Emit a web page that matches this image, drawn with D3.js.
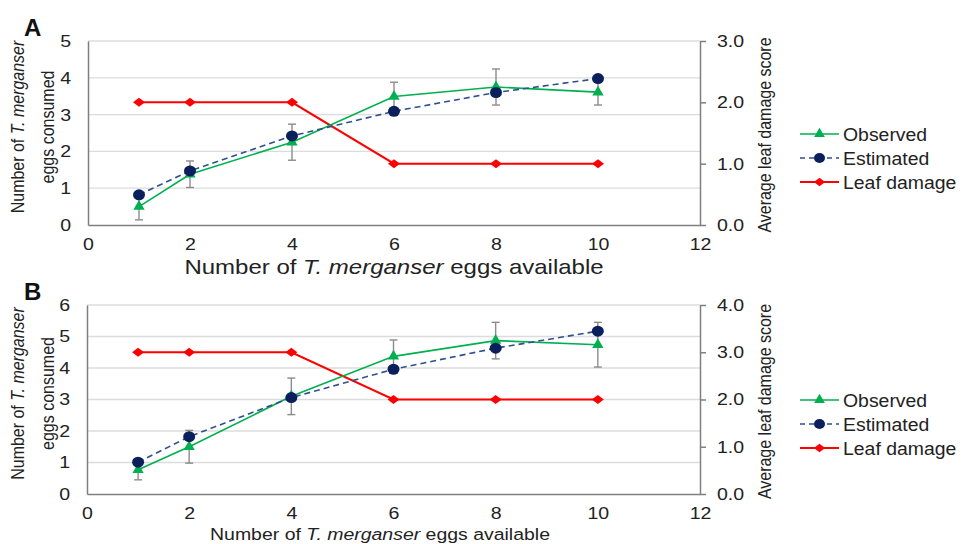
<!DOCTYPE html>
<html>
<head>
<meta charset="utf-8">
<script src="https://cdn.jsdelivr.net/npm/d3@7"></script>
<style>
  body { margin: 0; background: #fff; }
  svg { font-family: "Liberation Sans", Arial, sans-serif; }
</style>
</head>
<body>
<script>
const W = 964, H = 544

// values
const eggsAvailable = [1, 2, 4, 6, 8, 10]
const xTicks = [0, 2, 4, 6, 8, 10, 12]
const seriesNames = ['Observed', 'Estimated', 'Leaf damage']

const observedA = [0.50, 1.38, 2.25, 3.49, 3.75, 3.61]
const observedErrA = [0.36, 0.36, 0.49, 0.39, 0.49, 0.35]
const estimatedA = [0.82, 1.47, 2.42, 3.09, 3.60, 3.98]
const leafDamageA = [2, 2, 2, 1, 1, 1]

const observedB = [0.77, 1.50, 3.10, 4.37, 4.87, 4.74]
const observedErrB = [0.32, 0.52, 0.58, 0.52, 0.58, 0.71]
const estimatedB = [1.01, 1.82, 3.06, 3.96, 4.63, 5.17]
const leafDamageB = [3, 3, 3, 2, 2, 2]

const green = '#00b050', navy = '#0b1f5c', dash = '#2f4f8f', red = '#ff0000'
const axisGray = '#7f7f7f', gridGray = '#dcdcdc', errGray = '#8c8c8c'

// the figure's lettering is a bit wide, stretch it sideways
function wide(sel, sx) {
  sel.each(function () {
    const t = d3.select(this)
    const x0 = +t.attr('x') || 0
    t.attr('x', 0).attr('transform', `translate(${x0},0) scale(${sx},1)`)
  })
}

// diamond wider than tall, like the Excel marker
const flatDiamond = {
  draw(ctx, size) {
    const w = Math.sqrt(size) * 0.75, h = w * 0.75
    ctx.moveTo(0, -h); ctx.lineTo(w, 0); ctx.lineTo(0, h); ctx.lineTo(-w, 0); ctx.closePath()
  }
}

const svg = d3.select('body').append('svg').attr('width', W).attr('height', H)

function panel(cfg) {
  const g = svg.append('g')
  const x = d3.scaleLinear().domain([0, 12]).range([cfg.left, cfg.right])
  const y = d3.scaleLinear().domain([0, cfg.yMax]).range([cfg.bottom, cfg.top])
  const y2 = d3.scaleLinear().domain([0, cfg.y2Max]).range([cfg.bottom, cfg.top])

  // gridlines
  g.append('g').selectAll('line').data(d3.range(1, cfg.yMax + 1)).enter().append('line')
    .attr('x1', cfg.left).attr('x2', cfg.right)
    .attr('y1', d => y(d)).attr('y2', d => y(d))
    .attr('stroke', gridGray).attr('stroke-width', 1.3)

  // left axis (no ticks)
  const left = g.append('g').attr('transform', `translate(${cfg.left},0)`)
    .call(d3.axisLeft(y).ticks(cfg.yMax).tickSize(0).tickPadding(17))
  left.select('.domain').attr('stroke', axisGray).attr('stroke-width', 1.5)
  left.selectAll('text').attr('font-size', 17).attr('fill', '#222').style('font-family', 'inherit')
  wide(left.selectAll('text'), 1.15)

  // bottom axis
  const bottom = g.append('g').attr('transform', `translate(0,${cfg.bottom})`)
    .call(d3.axisBottom(x).tickValues(xTicks).tickSize(0).tickPadding(13))
  bottom.select('.domain').attr('stroke', axisGray).attr('stroke-width', 1.5)
  bottom.selectAll('text').attr('font-size', 17).attr('fill', '#222').style('font-family', 'inherit')
  wide(bottom.selectAll('text'), 1.15)

  // right axis
  const right = g.append('g').attr('transform', `translate(${cfg.right},0)`)
    .call(d3.axisRight(y2).ticks(cfg.y2Max).tickFormat(d3.format('.1f')).tickSize(6).tickSizeOuter(0).tickPadding(11))
  right.selectAll('.domain, line').attr('stroke', axisGray).attr('stroke-width', 1.5)
  right.selectAll('text').attr('font-size', 17).attr('fill', '#222').style('font-family', 'inherit')
  wide(right.selectAll('text'), 1.15)

  const obs = eggsAvailable.map((e, i) => ({ x: e, y: cfg.observed[i], err: cfg.err[i] }))
  const est = eggsAvailable.map((e, i) => ({ x: e, y: cfg.estimated[i] }))
  const leaf = eggsAvailable.map((e, i) => ({ x: e, y: cfg.leaf[i] }))

  // leaf damage line
  g.append('path').datum(leaf)
    .attr('d', d3.line().x(d => x(d.x)).y(d => y2(d.y)))
    .attr('fill', 'none').attr('stroke', red).attr('stroke-width', 2)
  g.append('g').selectAll('path').data(leaf).enter().append('path')
    .attr('d', d3.symbol(flatDiamond, 64))
    .attr('transform', d => `translate(${x(d.x)},${y2(d.y)})`)
    .attr('fill', red)

  // error bars on observed
  const eb = g.append('g').attr('stroke', errGray).attr('stroke-width', 1.4)
  eb.selectAll('line.v').data(obs).enter().append('line')
    .attr('x1', d => x(d.x)).attr('x2', d => x(d.x))
    .attr('y1', d => y(d.y - d.err)).attr('y2', d => y(d.y + d.err))
  eb.selectAll('line.t').data(obs).enter().append('line')
    .attr('x1', d => x(d.x) - 4).attr('x2', d => x(d.x) + 4)
    .attr('y1', d => y(d.y + d.err)).attr('y2', d => y(d.y + d.err))
  eb.selectAll('line.b').data(obs).enter().append('line')
    .attr('x1', d => x(d.x) - 4).attr('x2', d => x(d.x) + 4)
    .attr('y1', d => y(d.y - d.err)).attr('y2', d => y(d.y - d.err))

  // observed
  g.append('path').datum(obs)
    .attr('d', d3.line().x(d => x(d.x)).y(d => y(d.y)))
    .attr('fill', 'none').attr('stroke', green).attr('stroke-width', 1.6)
  g.append('g').selectAll('path').data(obs).enter().append('path')
    .attr('d', d3.symbol(d3.symbolTriangle, 55))
    .attr('transform', d => `translate(${x(d.x)},${y(d.y)})`)
    .attr('fill', green)

  // estimated
  g.append('path').datum(est)
    .attr('d', d3.line().x(d => x(d.x)).y(d => y(d.y)))
    .attr('fill', 'none').attr('stroke', dash).attr('stroke-width', 1.6).attr('stroke-dasharray', '6,4')
  g.append('g').selectAll('ellipse').data(est).enter().append('ellipse')
    .attr('cx', d => x(d.x)).attr('cy', d => y(d.y)).attr('rx', 6).attr('ry', 5.5)
    .attr('fill', navy)

  // panel letter
  g.append('text').attr('x', 24).attr('y', cfg.top - 5).text(cfg.letter)
    .attr('font-size', 24).attr('font-weight', 'bold').attr('fill', '#111')

  // x title
  const xt = g.append('text').attr('x', cfg.xTitleX).attr('y', cfg.bottom + cfg.xTitleDy)
    .attr('text-anchor', 'middle').attr('font-size', cfg.xTitleSize).attr('fill', '#222')
  xt.append('tspan').text('Number of ')
  xt.append('tspan').attr('font-style', 'italic').text('T. merganser')
  xt.append('tspan').text(' eggs available')
  wide(xt, cfg.xTitleStretch)

  // left y title
  const cy = (cfg.top + cfg.bottom) / 2 - 6
  const yt = g.append('text').attr('transform', `translate(24,${cy}) scale(1.1,1) rotate(-90)`)
    .attr('text-anchor', 'middle').attr('font-size', 16).attr('fill', '#222')
  const l1 = yt.append('tspan').attr('x', 0).attr('dy', 0)
  l1.append('tspan').text('Number of ')
  l1.append('tspan').attr('font-style', 'italic').text('T. merganser')
  yt.append('tspan').attr('x', 0).attr('dy', 27).text('eggs consumed')

  // right y title
  g.append('text').attr('transform', `translate(771,${(cfg.top + cfg.bottom) / 2 + 2}) scale(1.12,1) rotate(-90)`)
    .attr('text-anchor', 'middle').attr('font-size', 16).attr('fill', '#222')
    .text('Average leaf damage score')

  // legend
  const lg = g.append('g')
  seriesNames.forEach((name, i) => {
    const ly = cfg.legendY + i * 24
    const row = lg.append('g')
    if (i === 0) {
      row.append('line').attr('x1', 800).attr('x2', 839).attr('y1', ly).attr('y2', ly).attr('stroke', green).attr('stroke-width', 1.6)
      row.append('path').attr('d', d3.symbol(d3.symbolTriangle, 50)).attr('transform', `translate(819.5,${ly})`).attr('fill', green)
    } else if (i === 1) {
      row.append('line').attr('x1', 800).attr('x2', 839).attr('y1', ly).attr('y2', ly).attr('stroke', dash).attr('stroke-width', 1.6).attr('stroke-dasharray', '5,4')
      row.append('ellipse').attr('cx', 819.5).attr('cy', ly).attr('rx', 5.5).attr('ry', 5).attr('fill', navy)
    } else {
      row.append('line').attr('x1', 800).attr('x2', 839).attr('y1', ly).attr('y2', ly).attr('stroke', red).attr('stroke-width', 2)
      row.append('path').attr('d', d3.symbol(flatDiamond, 56)).attr('transform', `translate(819.5,${ly})`).attr('fill', red)
    }
    const tx = row.append('text').attr('x', 843).attr('y', ly).attr('dy', '0.36em')
      .attr('font-size', 18.5).attr('fill', '#222').text(name)
    wide(tx, 1.05)
  })
}

panel({
  letter: 'A', left: 88, right: 700, top: 41, bottom: 225, yMax: 5, y2Max: 3,
  observed: observedA, err: observedErrA, estimated: estimatedA, leaf: leafDamageA,
  xTitleX: 394, xTitleDy: 49, xTitleSize: 20, xTitleStretch: 1.2, legendY: 134
})
panel({
  letter: 'B', left: 87, right: 700, top: 305, bottom: 494, yMax: 6, y2Max: 4,
  observed: observedB, err: observedErrB, estimated: estimatedB, leaf: leafDamageB,
  xTitleX: 380, xTitleDy: 46, xTitleSize: 16.5, xTitleStretch: 1.18, legendY: 400
})
</script>
</body>
</html>
